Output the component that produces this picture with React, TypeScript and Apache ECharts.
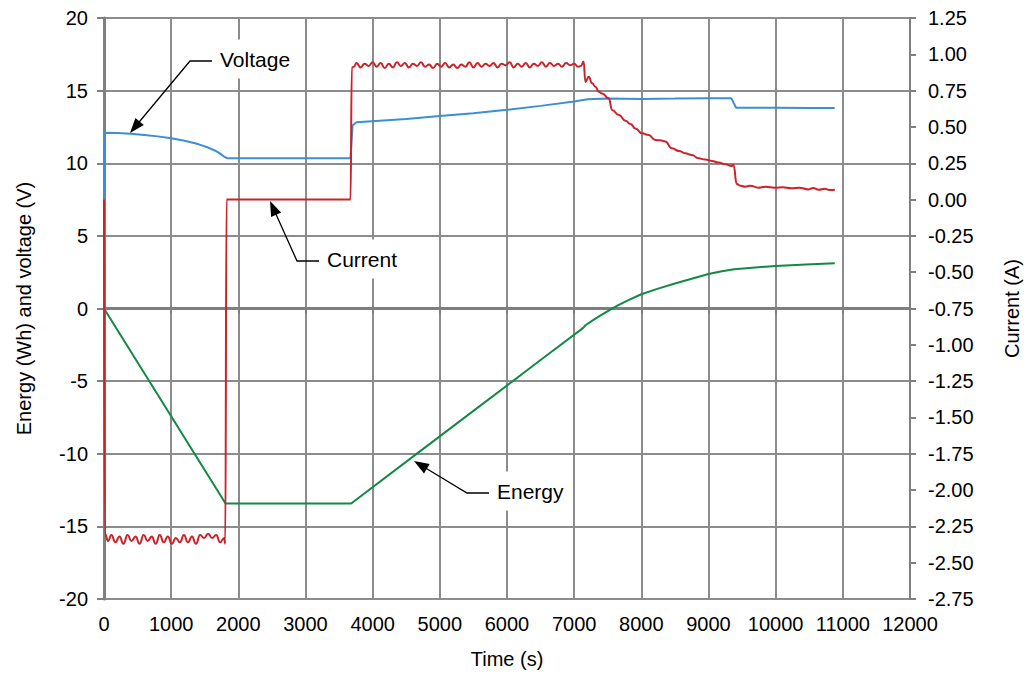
import { useEffect, useRef } from "react";
import * as echarts from "echarts";

// Time (s), energy (Wh)
const energyData: [number, number][] = [
  [0, 0], [1810, -13.42], [3680, -13.42], [4600, -10.2], [5500, -7.05],
  [6500, -3.55], [7130, -1.35], [7170, -1.15], [7270, -0.83], [7400, -0.45],
  [7515, -0.14], [7650, 0.22], [7800, 0.56], [8000, 0.98], [8250, 1.37],
  [8500, 1.72], [8750, 2.05], [9000, 2.37], [9200, 2.56], [9380, 2.7],
  [9700, 2.83], [10000, 2.93], [10450, 3.03], [10880, 3.12],
];

// Time (s), voltage (V)
const voltageData: [number, number][] = [
  [0, 7.6], [15, 12.1], [200, 12.08], [400, 12.03], [600, 11.95],
  [800, 11.85], [1000, 11.72], [1200, 11.55], [1400, 11.32], [1550, 11.08],
  [1650, 10.88], [1730, 10.66], [1790, 10.45], [1830, 10.35], [3670, 10.35],
  [3700, 12.6], [3760, 12.82], [4500, 13.05], [5000, 13.25], [5500, 13.45],
  [6000, 13.68], [6500, 13.95], [7000, 14.25], [7200, 14.4], [7500, 14.45],
  [8000, 14.43], [8500, 14.45], [9000, 14.48], [9340, 14.48], [9410, 13.82],
  [10000, 13.82], [10500, 13.8], [10880, 13.8],
];

// Time (s), current (A)
const currentData: [number, number][] = [
  [0, 0.0], [15, -2.3], [60, -2.35], [110, -2.31], [170, -2.36], [230, -2.32],
  [290, -2.37], [350, -2.31], [410, -2.35], [470, -2.32], [530, -2.37],
  [590, -2.31], [650, -2.35], [710, -2.32], [770, -2.37], [830, -2.31],
  [890, -2.36], [950, -2.32], [1010, -2.37], [1070, -2.33], [1130, -2.36],
  [1190, -2.31], [1250, -2.36], [1310, -2.32], [1370, -2.37], [1430, -2.31],
  [1490, -2.33], [1550, -2.3], [1610, -2.33], [1670, -2.31], [1730, -2.36],
  [1790, -2.33], [1805, -2.37], [1825, 0.0], [3670, 0.0], [3690, 0.91],
  [3720, 0.915], [3760, 0.94], [3820, 0.91], [3880, 0.935], [3940, 0.92],
  [4000, 0.945], [4060, 0.915], [4120, 0.94], [4180, 0.905], [4240, 0.935],
  [4300, 0.91], [4360, 0.945], [4420, 0.92], [4480, 0.94], [4540, 0.91],
  [4600, 0.935], [4660, 0.92], [4720, 0.945], [4780, 0.915], [4840, 0.93],
  [4900, 0.905], [4960, 0.935], [5020, 0.915], [5080, 0.94], [5140, 0.91],
  [5200, 0.93], [5260, 0.905], [5320, 0.93], [5380, 0.915], [5440, 0.945],
  [5500, 0.91], [5560, 0.94], [5620, 0.915], [5680, 0.935], [5740, 0.92],
  [5800, 0.94], [5860, 0.91], [5920, 0.935], [5980, 0.925], [6040, 0.945],
  [6100, 0.91], [6160, 0.935], [6220, 0.915], [6280, 0.94], [6340, 0.91],
  [6400, 0.935], [6460, 0.92], [6520, 0.945], [6580, 0.915], [6640, 0.94],
  [6700, 0.92], [6760, 0.935], [6820, 0.915], [6880, 0.94], [6940, 0.925],
  [7000, 0.935], [7060, 0.915], [7100, 0.92], [7140, 0.95], [7168, 0.81],
  [7218, 0.846], [7267, 0.8], [7320, 0.775], [7366, 0.743], [7415, 0.73],
  [7515, 0.697], [7565, 0.617], [7664, 0.582], [7763, 0.543], [7840, 0.52],
  [7911, 0.49], [8010, 0.456], [8109, 0.445], [8208, 0.41], [8280, 0.408],
  [8356, 0.4], [8455, 0.353], [8560, 0.335], [8653, 0.319], [8752, 0.307],
  [8851, 0.284], [8950, 0.276], [9050, 0.266], [9150, 0.255], [9248, 0.243],
  [9347, 0.231], [9371, 0.24], [9421, 0.107], [9480, 0.095], [9545, 0.089],
  [9620, 0.095], [9743, 0.082], [9850, 0.088], [9990, 0.082], [10100, 0.085],
  [10238, 0.078], [10350, 0.082], [10485, 0.07], [10560, 0.08], [10640, 0.068],
  [10733, 0.075], [10800, 0.066], [10881, 0.068],
];

const FONT = "Liberation Sans, Arial, Helvetica, sans-serif";
const AXIS = "#7f7f7f";
const GRIDC = "#8c8c8c";

type Pt = [number, number];

function leader(pts: Pt[]) {
  const n = pts.length;
  const tip = pts[n - 1];
  const prev = pts[n - 2];
  const dx = tip[0] - prev[0];
  const dy = tip[1] - prev[1];
  const len = Math.sqrt(dx * dx + dy * dy);
  const ux = dx / len;
  const uy = dy / len;
  const L = 15;
  const W = 5.5;
  const bx = tip[0] - ux * L;
  const by = tip[1] - uy * L;
  const line = pts.slice(0, n - 1).concat([[bx + ux * 2, by + uy * 2]]);
  return [
    {
      type: "polyline",
      z: 100,
      shape: { points: line },
      style: { stroke: "#000", lineWidth: 1.3, fill: "none" },
    },
    {
      type: "polygon",
      z: 100,
      shape: {
        points: [
          tip,
          [bx - uy * W, by + ux * W],
          [bx + uy * W, by - ux * W],
        ],
      },
      style: { fill: "#000" },
    },
  ];
}

function label(text: string, x: number, y: number) {
  return {
    type: "text",
    z: 100,
    x,
    y,
    style: {
      text,
      font: `21px ${FONT}`,
      fill: "#000",
      verticalAlign: "middle",
      align: "left",
      backgroundColor: "#fff",
      padding: [9, 8, 9, 8],
    },
  };
}

export default function App() {
  const ref = useRef<HTMLDivElement>(null);
  useEffect(() => {
    const chart = echarts.init(ref.current!, null, { renderer: "svg" });
    chart.setOption({
      animation: false,
      backgroundColor: "#fff",
      textStyle: { fontFamily: FONT },
      grid: { left: 104, right: 118, top: 18, bottom: 75, containLabel: false },
      xAxis: [
        {
          type: "value",
          min: 0,
          max: 12000,
          interval: 1000,
          position: "bottom",
          name: "Time (s)",
          nameLocation: "middle",
          nameGap: 50,
          nameTextStyle: { fontSize: 20, color: "#000", fontFamily: FONT },
          axisLine: { show: false, onZero: false },
          axisTick: { show: false },
          axisLabel: {
            fontSize: 20,
            color: "#000",
            margin: 15,
            fontFamily: FONT,
            formatter: (v: number) => String(v),
          },
          splitLine: { show: true, lineStyle: { color: GRIDC, width: 2 } },
        },
        {
          type: "value",
          min: 0,
          max: 12000,
          interval: 1000,
          position: "bottom",
          axisLine: { show: true, onZero: true, onZeroAxisIndex: 0, lineStyle: { color: AXIS, width: 3 } },
          axisTick: { show: true, length: 5, lineStyle: { color: AXIS, width: 2 } },
          axisLabel: { show: false },
          splitLine: { show: false },
        },
      ],
      yAxis: [
        {
          type: "value",
          min: -20,
          max: 20,
          interval: 5,
          position: "left",
          name: "Energy (Wh) and voltage (V)",
          nameLocation: "middle",
          nameGap: 70,
          nameTextStyle: { fontSize: 20, color: "#000", fontFamily: FONT },
          axisLine: { show: true, onZero: false, lineStyle: { color: AXIS, width: 3 } },
          axisTick: { show: true, length: 7, lineStyle: { color: AXIS, width: 2 } },
          axisLabel: { fontSize: 20, color: "#000", margin: 16, fontFamily: FONT },
          splitLine: { show: true, lineStyle: { color: GRIDC, width: 2 } },
        },
        {
          type: "value",
          min: -2.75,
          max: 1.25,
          interval: 0.25,
          position: "right",
          name: "Current (A)",
          nameLocation: "middle",
          nameGap: 92,
          nameTextStyle: { fontSize: 20, color: "#000", fontFamily: FONT },
          axisLine: { show: true, onZero: false, lineStyle: { color: AXIS, width: 2 } },
          axisTick: { show: true, length: 6, lineStyle: { color: AXIS, width: 2 } },
          axisLabel: {
            fontSize: 20,
            color: "#000",
            margin: 18,
            fontFamily: FONT,
            formatter: (v: number) => v.toFixed(2),
          },
          splitLine: { show: false },
        },
      ],
      series: [
        {
          name: "Energy",
          type: "line",
          xAxisIndex: 0,
          yAxisIndex: 0,
          data: energyData,
          showSymbol: false,
          symbol: "none",
          lineStyle: { color: "#128a46", width: 2 },
          z: 3,
        },
        {
          name: "Voltage",
          type: "line",
          xAxisIndex: 0,
          yAxisIndex: 0,
          data: voltageData,
          showSymbol: false,
          symbol: "none",
          lineStyle: { color: "#3b8fd5", width: 2 },
          z: 4,
        },
        {
          name: "Current",
          type: "line",
          xAxisIndex: 0,
          yAxisIndex: 1,
          data: currentData,
          showSymbol: false,
          symbol: "none",
          smooth: 0.5,
          smoothMonotone: "x",
          lineStyle: { color: "#cc2229", width: 2 },
          z: 5,
        },
      ],
      graphic: [
        ...leader([[212, 61], [190, 61], [130, 133]]),
        label("Voltage", 212, 59),
        ...leader([[319, 261], [297, 261], [270, 201]]),
        label("Current", 319, 259),
        ...leader([[489, 493], [467, 493], [414, 461]]),
        label("Energy", 489, 491),
      ],
    });
    return () => chart.dispose();
  }, []);
  return (
    <div
      ref={ref}
      style={{ position: "fixed", left: 0, top: 0, width: 1030, height: 674 }}
    />
  );
}
